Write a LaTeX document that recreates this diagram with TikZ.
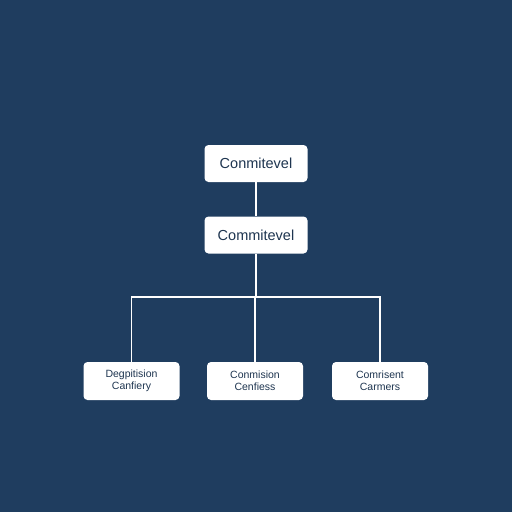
\documentclass[tikz,border=0pt]{standalone}
\usepackage{fontspec}
\setmainfont{Liberation Sans}
\definecolor{navybg}{HTML}{1F3D5F}
\definecolor{boxtext}{HTML}{1E3550}

\begin{document}
\begin{tikzpicture}[x=1pt, y=-1pt]
	\tikzstyle{every node} = [rectangle, rounded corners=4pt, fill=white, text=boxtext, align=center, inner sep=0pt]
	\tikzstyle{upper} = [minimum width=103pt, minimum height=37pt, font=\fontsize{14.5}{16}\selectfont]
	\tikzstyle{lower} = [minimum width=96pt, minimum height=38pt, font=\fontsize{10.5}{12}\selectfont]
	\fill[navybg] (0,0) rectangle (512,512);
	\useasboundingbox (0,0) rectangle (512,512);
	\node[upper] (Top) at (256, 163.5) {Conmitevel};
	\node[upper] (Level) at (256, 235) {Commitevel};
	\node[lower] (Left) at (131.5, 381) {Degpitision\\Canfiery};
	\node[lower] (Middle) at (255, 381) {Conmision\\Cenfiess};
	\node[lower] (Right) at (380, 381) {Comrisent\\Carmers};
	\coordinate (Bar) at (256, 297);
	\draw [white, line width=1.6pt] (Top)--(Level);
	\draw [white, line width=1.6pt] (Level)--(Bar);
	\draw [white, line width=1.6pt] (Left.north)--(Left.north |- Bar)--(Right.north |- Bar)--(Right.north);
	\draw [white, line width=1.6pt] (Middle.north)--(Middle.north |- Bar);
\end{tikzpicture}
\end{document}
